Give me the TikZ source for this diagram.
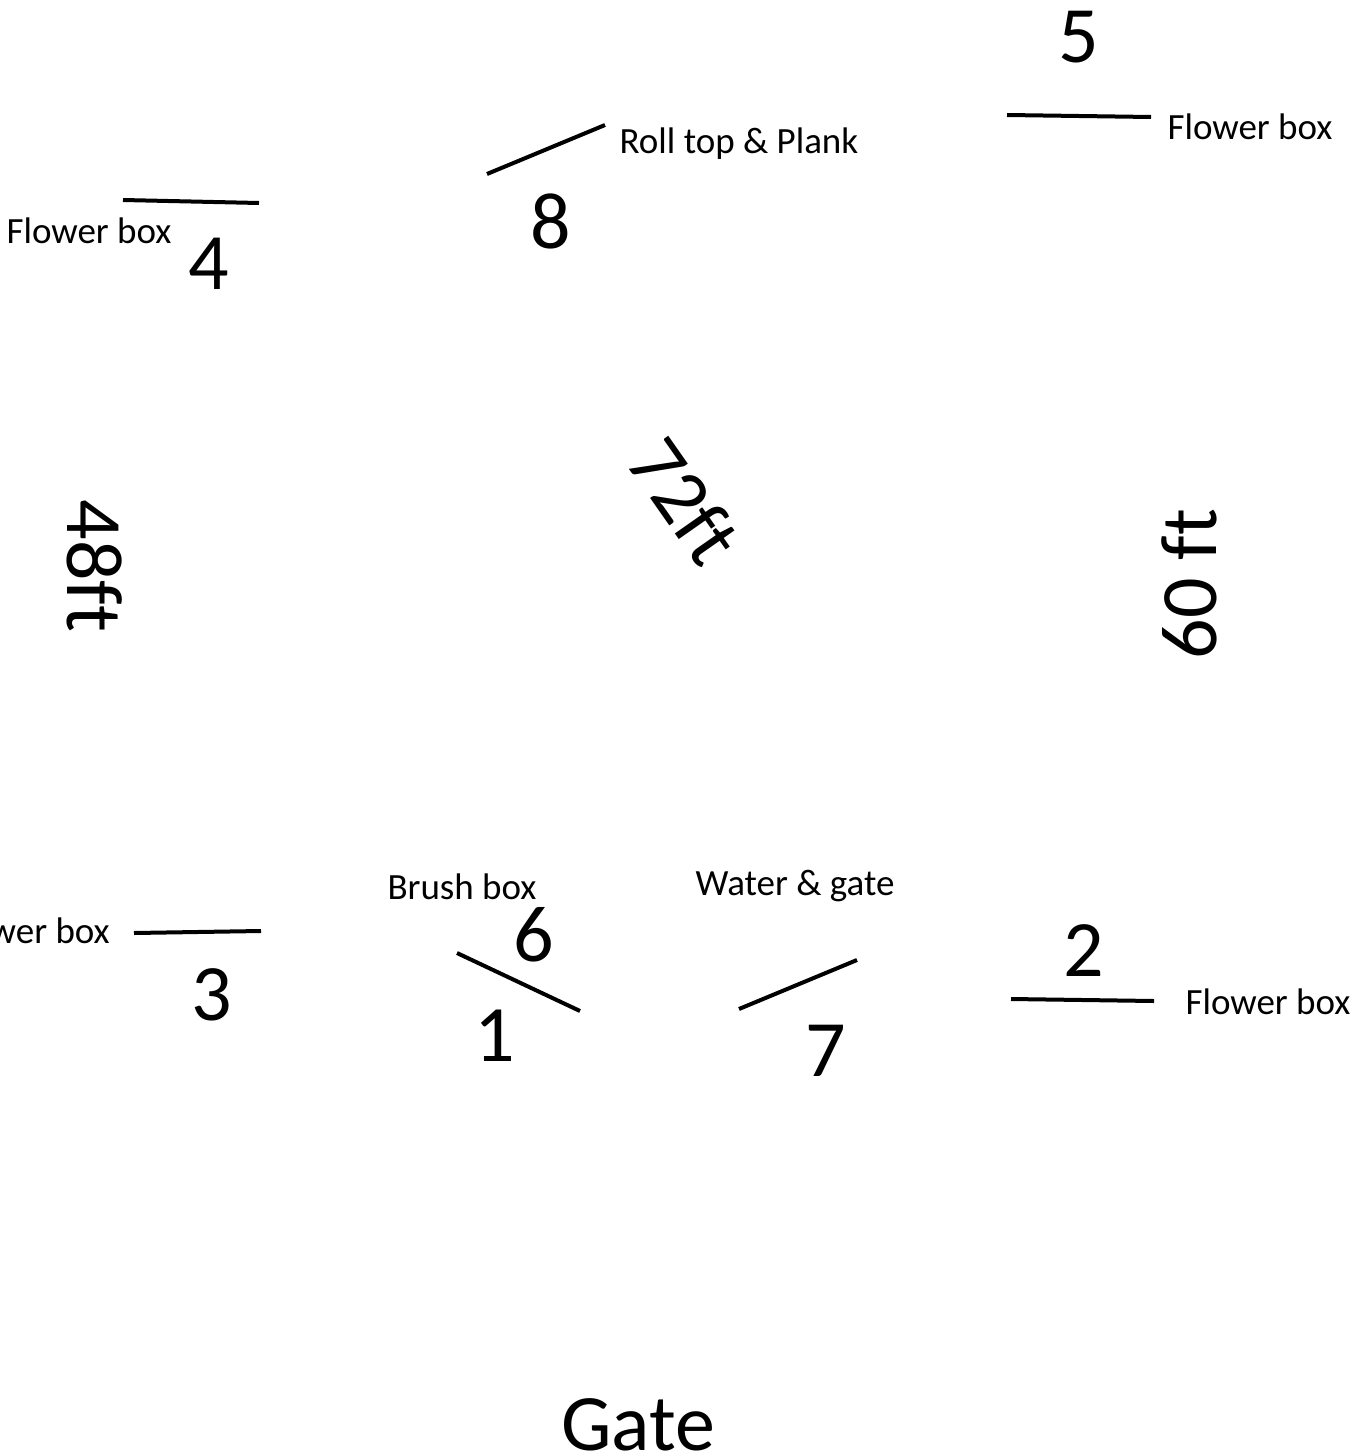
\documentclass[tikz,border=0pt]{standalone}
\usepackage{fontspec}
\setmainfont{Carlito}[Ligatures=NoCommon]
\tikzset{
  x=1pt,y=-1pt,
  big/.style={font=\fontsize{80}{80}\selectfont,inner sep=0pt,text=black},
  small/.style={font=\fontsize{37}{37}\selectfont,inner sep=0pt,text=black},
  bar/.style={draw=black,line width=4pt}
}
\begin{document}
\begin{tikzpicture}
\useasboundingbox (0,0) rectangle (1364,1455);
\clip (0,0) rectangle (1364,1455);
\node[big] (n5) at (1079,37) {5};
\node[big] (n8) at (551,221) {8};
\node[big] (n4) at (209,264) {4};
\node[big] (n6) at (534,935) {6};
\node[big] (n3) at (212,995) {3};
\node[big] (n1) at (495,1036) {1};
\node[big] (n7) at (826,1051) {7};
\node[big] (n2) at (1084,951) {2};
\node[big] (gate) at (638,1425) {Gate};
\node[big,rotate=-90] (l48) at (95,566) {48ft};
\node[big,rotate=90] (l60) at (1189,584) {60 ft};
\node[big,rotate=-55] (l72) at (685,501) {72ft};
\node[small] (t1) at (1250,127) {Flower box};
\node[small] (t2) at (739,144) {Roll top \& Plank};
\node[small] (t3) at (89,231) {Flower box};
\node[small,anchor=east] (t4) at (110,931) {Flower box};
\node[small] (t5) at (462,887) {Brush box};
\node[small] (t6) at (795,886) {Water \& gate};
\node[small] (t7) at (1268,1002) {Flower box};
\coordinate (a1) at (1007,115); \coordinate (b1) at (1151,117);
\coordinate (a2) at (487,174);  \coordinate (b2) at (605,125);
\coordinate (a3) at (123,200);  \coordinate (b3) at (259,203);
\coordinate (a4) at (134,933);  \coordinate (b4) at (261,931);
\coordinate (a5) at (457,953);  \coordinate (b5) at (580,1011);
\coordinate (a6) at (739,1009); \coordinate (b6) at (857,960);
\coordinate (a7) at (1011,999); \coordinate (b7) at (1154,1001);
\foreach \i in {1,...,7} \draw[bar] (a\i) -- (b\i);
\end{tikzpicture}
\end{document}
